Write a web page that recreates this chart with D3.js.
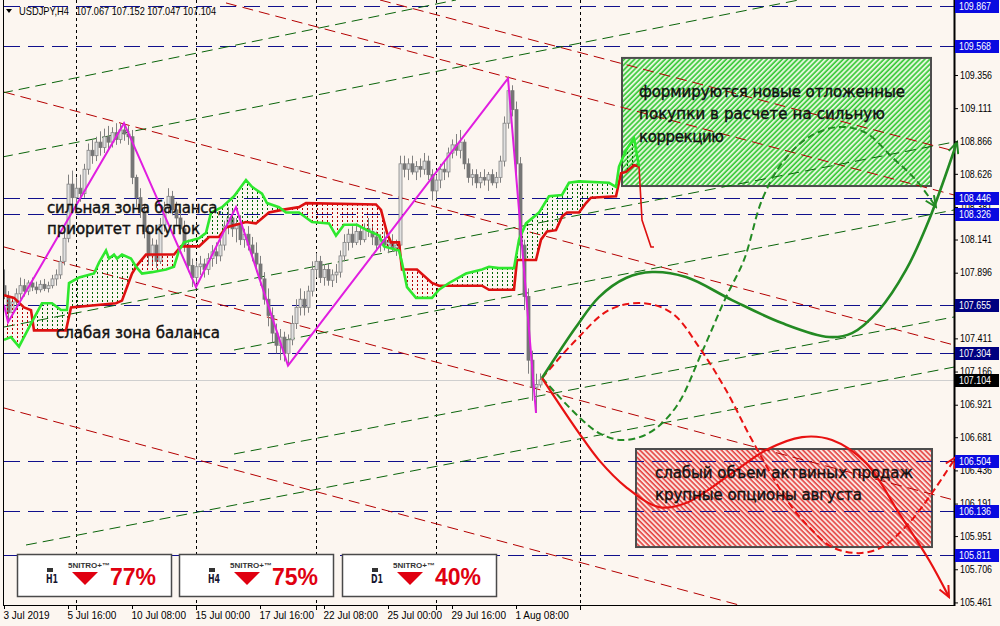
<!DOCTYPE html>
<html><head><meta charset="utf-8">
<script src="https://cdn.jsdelivr.net/npm/d3@7"></script>
<style>body{margin:0;background:#fcf6f0;}svg{display:block;}</style>
</head><body><svg id="c" width="1000" height="626"></svg>
<script>
// ---------- DATA ----------
const symbolTitle = "USDJPY,H4";
const headerOHLC = "107.067 107.152 107.047 107.104";
// OHLC per H4 bar (bar index = position in array)
const candles = [
[107.80,107.92,107.70,107.72],[107.72,107.76,107.53,107.60],[107.60,107.72,107.58,107.68],[107.68,107.78,107.62,107.74],
[107.74,107.86,107.70,107.80],[107.80,107.85,107.72,107.76],[107.76,107.84,107.73,107.82],[107.82,107.86,107.76,107.79],
[107.79,107.83,107.74,107.77],[107.77,107.84,107.75,107.81],[107.81,107.85,107.76,107.78],[107.78,107.83,107.75,107.80],
[107.80,107.88,107.78,107.85],[107.85,107.92,107.80,107.88],[107.88,108.02,107.85,107.98],[107.98,108.20,107.95,108.15],
[108.15,108.62,108.12,108.55],[108.55,108.65,108.40,108.45],[108.45,108.60,108.38,108.52],[108.52,108.62,108.42,108.48],
[108.48,108.70,108.45,108.66],[108.66,108.85,108.62,108.80],[108.80,108.88,108.70,108.76],[108.76,108.90,108.72,108.86],
[108.86,108.94,108.76,108.82],[108.82,108.96,108.78,108.90],[108.90,108.98,108.80,108.86],[108.86,108.97,108.82,108.93],
[108.93,109.00,108.84,108.88],[108.88,109.00,108.85,108.95],[108.95,109.00,108.87,108.92],[108.92,108.98,108.84,108.90],
[108.90,108.95,108.55,108.60],[108.60,108.62,108.38,108.45],[108.45,108.52,108.30,108.35],[108.35,108.40,108.15,108.20],
[108.20,108.25,107.95,108.02],[108.02,108.15,107.95,108.10],[108.10,108.14,107.93,107.98],[107.98,108.30,107.96,108.25],
[108.25,108.42,108.20,108.38],[108.38,108.52,108.33,108.46],[108.46,108.50,108.32,108.36],[108.36,108.42,108.24,108.30],
[108.30,108.36,108.18,108.22],[108.22,108.28,108.05,108.10],[108.10,108.14,107.90,107.95],[107.95,108.00,107.79,107.86],
[107.86,107.98,107.82,107.94],[107.94,108.02,107.88,107.96],[107.96,108.00,107.86,107.92],[107.92,108.04,107.88,108.00],
[108.00,108.10,107.94,108.05],[108.05,108.12,107.96,108.02],[108.02,108.14,107.98,108.10],[108.10,108.28,108.06,108.24],
[108.24,108.38,108.18,108.30],[108.30,108.36,108.16,108.22],[108.22,108.30,108.12,108.26],[108.26,108.32,108.10,108.14],
[108.14,108.22,108.08,108.18],[108.18,108.24,108.06,108.10],[108.10,108.16,107.98,108.04],[108.04,108.12,107.90,107.96],
[107.96,108.02,107.80,107.85],[107.85,107.90,107.66,107.70],[107.70,107.78,107.50,107.58],[107.58,107.64,107.38,107.45],
[107.45,107.52,107.30,107.36],[107.36,107.48,107.25,107.42],[107.42,107.46,107.24,107.30],[107.30,107.44,107.21,107.40],
[107.40,107.58,107.36,107.52],[107.52,107.70,107.48,107.64],[107.64,107.78,107.58,107.70],[107.70,107.76,107.58,107.64],
[107.64,107.80,107.60,107.76],[107.76,107.98,107.72,107.92],[107.92,108.04,107.86,107.98],[107.98,108.02,107.82,107.86],
[107.86,107.96,107.80,107.92],[107.92,107.96,107.80,107.84],[107.84,107.92,107.79,107.88],[107.88,107.96,107.82,107.90],
[107.90,108.06,107.86,108.02],[108.02,108.18,107.98,108.12],[108.12,108.22,108.06,108.18],[108.18,108.24,108.08,108.12],
[108.12,108.26,108.10,108.20],[108.20,108.24,108.10,108.14],[108.14,108.26,108.12,108.22],[108.22,108.30,108.16,108.20],
[108.20,108.24,108.10,108.16],[108.16,108.20,108.06,108.10],[108.10,108.18,108.05,108.14],[108.14,108.20,108.06,108.10],
[108.10,108.16,108.04,108.12],[108.12,108.18,108.05,108.08],[108.08,108.14,108.02,108.10],[108.10,108.76,108.06,108.70],
[108.70,108.76,108.60,108.66],[108.66,108.74,108.58,108.70],[108.70,108.76,108.62,108.64],[108.64,108.72,108.58,108.68],
[108.68,108.74,108.60,108.66],[108.66,108.78,108.62,108.72],[108.72,108.76,108.58,108.62],[108.62,108.66,108.43,108.50],
[108.50,108.62,108.44,108.58],[108.58,108.70,108.52,108.66],[108.66,108.72,108.58,108.64],[108.64,108.82,108.60,108.78],
[108.78,108.88,108.74,108.84],[108.84,108.92,108.76,108.80],[108.80,108.95,108.74,108.86],[108.86,108.88,108.66,108.70],
[108.70,108.74,108.56,108.60],[108.60,108.66,108.54,108.62],[108.62,108.66,108.52,108.56],[108.56,108.64,108.52,108.60],
[108.60,108.66,108.54,108.58],[108.58,108.64,108.50,108.62],[108.62,108.66,108.54,108.56],[108.56,108.64,108.52,108.60],
[108.60,108.76,108.56,108.72],[108.72,109.05,108.68,109.00],[109.00,109.33,108.96,109.24],[109.24,109.28,109.05,109.10],
[109.10,109.16,108.62,108.70],[108.70,108.75,108.00,108.10],[108.10,108.14,107.62,107.72],[107.72,107.78,107.15,107.25],
[107.25,107.32,106.95,107.05],[107.05,107.15,106.86,107.07],[107.067,107.152,107.047,107.104]
];
const priceTicks = [109.356,109.111,108.866,108.626,108.381,108.141,107.896,107.411,107.166,106.921,106.681,106.436,106.191,105.951,105.706,105.461];
const timeTickBars = [0,16,32,48,64,80,96,112,128];
const timeTickLabels = ["3 Jul 2019","5 Jul 16:00","10 Jul 08:00","15 Jul 00:00","17 Jul 16:00","22 Jul 08:00","25 Jul 00:00","29 Jul 16:00","1 Aug 08:00"];
const separatorBars = [18,48,78,108,144];
const levelsBlue = [109.867,109.568,108.446,108.326,106.504,106.136,105.811];
const levelsNavy = [107.655,107.304];
const lastPrice = 107.104;
// Ichimoku Senkou spans [bar, price]
const spanA = [[0,107.40],[1.75,107.42],[3.75,107.35],[6.75,107.52],[9.5,107.67],[12,107.67],[14.25,107.62],[15.75,107.62],[16.25,107.82],[18.75,107.86],[22.5,107.89],[23.75,107.97],[25.5,108.06],[26.25,108.00],[27.5,108.03],[28.25,108.00],[29.5,108.03],[31.75,108.00],[33,107.94],[34.5,107.89],[37,107.90],[40.5,107.92],[42.5,107.94],[43.75,108.06],[45,108.12],[48.75,108.15],[50.5,108.19],[51.75,108.34],[54.5,108.38],[57.5,108.46],[60.5,108.58],[62,108.53],[64.5,108.48],[65.75,108.41],[68.75,108.38],[70.5,108.34],[73.75,108.34],[77,108.27],[81.25,108.26],[83,108.17],[85,108.25],[88.25,108.25],[90.75,108.21],[93.75,108.17],[95,108.09],[98.75,108.06],[99.5,107.97],[100.75,107.79],[103,107.71],[107,107.71],[108.75,107.77],[111.25,107.82],[115.5,107.89],[119.5,107.92],[121.25,107.94],[123.75,107.93],[127.5,107.93],[128.75,108.14],[130.5,108.26],[133.75,108.34],[136.25,108.46],[139.5,108.47],[141.25,108.56],[143.75,108.57],[151.25,108.56],[153,108.53],[153.75,108.68],[155.5,108.80],[157.5,108.89],[158.75,108.68]];
const spanB = [[0,107.73],[2.5,107.71],[5,107.64],[6.75,107.62],[7.5,107.47],[15.5,107.47],[16.75,107.64],[28,107.67],[29.5,107.69],[30.75,107.79],[32,107.89],[33.25,107.95],[35.5,108.03],[42.5,108.03],[44.25,108.09],[48.75,108.09],[51.25,108.16],[53.75,108.16],[55.5,108.23],[60.5,108.27],[63,108.26],[66.25,108.34],[69.5,108.36],[73.75,108.38],[75.5,108.41],[93,108.40],[94.25,108.36],[95.75,108.19],[96.75,108.12],[98.75,108.12],[99.5,107.92],[103.25,107.92],[107,107.82],[108.75,107.80],[119.5,107.80],[121.25,107.77],[127.5,107.77],[128.25,107.99],[133,107.99],[134.25,108.14],[135.75,108.20],[138,108.21],[139.5,108.31],[140.75,108.34],[143.75,108.34],[145.5,108.41],[146.75,108.45],[153,108.46],[154.25,108.63],[155.5,108.64],[157.5,108.69],[158.75,108.68]];
const spanTail = [[158.75,108.68],[159.5,108.285],[161.75,108.086],[162.5,108.086]];
const zigzag = [[0,107.66],[1,107.53],[30,109.00],[48,107.79],[58,108.38],[71,107.21],[126,109.33],[133,106.86]];
// trend channel lines [[bar,price],[bar,price]]
const redChannels = [[[94,109.910],[237.5,108.795]],[[55.5,109.888],[237.5,108.470]],[[0,109.230],[237.5,107.362]],[[0,108.086],[237.5,106.217]],[[0,106.897],[183.75,105.442]]];
const greenChannels = [[[-0.5,109.223],[113,109.910]],[[-0.5,108.750],[198.75,109.910]],[[0,107.495],[237.5,108.861]],[[57.5,107.325],[237.5,108.359]],[[57.5,106.557],[237.5,107.569]],[[5.5,105.885],[237.5,107.199]]];
// forecast scenarios [bar, price]
const fcGreenSolid = [[134.5,107.118],[143,107.495],[148.75,107.716],[155.5,107.857],[162,107.901],[170.5,107.864],[182,107.694],[194.5,107.524],[206.25,107.421],[212,107.450],[218.75,107.620],[225.5,107.916],[231.25,108.285],[238.25,108.861]];
const fcGreenDash = [[134.5,107.118],[143.75,106.830],[148.75,106.712],[154.5,106.660],[161.25,106.712],[168,106.904],[174.5,107.310],[180.5,107.716],[185,107.990],[189.5,108.433],[194.5,108.706],[201.25,108.898],[208.75,108.972],[215.5,108.928],[222,108.750],[228,108.580],[233,108.381]];
const fcRedDash = [[134.5,107.118],[143,107.399],[151.25,107.620],[159.5,107.672],[167,107.598],[173.75,107.347],[180.5,107.029],[187,106.660],[196.25,106.195],[201.25,106.018],[207,105.870],[213.75,105.825],[219.5,105.870],[226.25,106.047],[232,106.269],[238,106.535]];
const fcRedSolid = [[134.5,107.118],[143.75,106.712],[148.75,106.512],[155.5,106.313],[163.75,106.165],[170.5,106.195],[182,106.416],[190.5,106.586],[199.5,106.682],[207,106.660],[215.5,106.490],[223.75,106.121],[231.25,105.774],[236.25,105.501]];
// zones [barFrom, barTo, priceTop, priceBottom]
const buyZone = [154.5,231.75,109.482,108.536];
const sellZone = [158,232,106.594,105.870];
const buyText = ["формируются новые отложенные","покупки в расчете на сильную","коррекцию"];
const sellText = ["слабый объем актвиных продаж","крупные опционы августа"];
const leftText = ["сильная зона баланса,","приоритет покупок","слабая зона баланса"];
const badgeFrames = ["H1","H4","D1"];
const badgeValues = [77,75,40];

// ---------- CHART ----------
const svg = d3.select("#c");
const x = d3.scaleLinear().domain([0,237.5]).range([4,954]);
const y = d3.scaleLinear().domain([105.442,109.895]).range([605,2]);
const FONT = "'Liberation Sans', Arial, sans-serif";
const AFONT = "'DejaVu Sans', 'Noto Sans', sans-serif";

svg.append("rect").attr("width",1000).attr("height",626).attr("fill","#fcf6f0");
const defs = svg.append("defs");
defs.append("clipPath").attr("id","plot").append("rect").attr("x",4).attr("y",0).attr("width",950).attr("height",605);

function stripes(id, rot, bg, col, w){
  const p = defs.append("pattern").attr("id",id).attr("patternUnits","userSpaceOnUse")
    .attr("width",3.6).attr("height",4).attr("patternTransform","rotate("+rot+")");
  p.append("rect").attr("width",3.6).attr("height",4).attr("fill",bg);
  p.append("line").attr("x1",1).attr("y1",-1).attr("x2",1).attr("y2",5).attr("stroke",col).attr("stroke-width",w);
}
stripes("pg",45,"#e2f7da","#36c836",1.6);
stripes("pr",-45,"#fbe4df","#e01e1e",1.3);
function dots(id,col){
  const p = defs.append("pattern").attr("id",id).attr("patternUnits","userSpaceOnUse").attr("width",5).attr("height",4);
  p.append("rect").attr("x",2).attr("y",0).attr("width",1).attr("height",2).attr("fill",col);
}
dots("hg","#006400"); dots("hr","#b00000");
function marker(id,col){
  defs.append("marker").attr("id",id).attr("viewBox","0 0 14 12").attr("refX",12).attr("refY",6)
   .attr("markerWidth",14).attr("markerHeight",12).attr("markerUnits","userSpaceOnUse").attr("orient","auto")
   .append("path").attr("d","M1,1 L12,6 L1,11").attr("fill","none").attr("stroke",col).attr("stroke-width",2);
}
marker("ag","#238a23"); marker("ar","#e81212");

const line = d3.line().x(d=>x(d[0])).y(d=>y(d[1]));
const plot = svg.append("g").attr("clip-path","url(#plot)");

// zones (background objects)
function zone(z, fill){
  plot.append("rect").attr("x",x(z[0])).attr("y",y(z[2])).attr("width",x(z[1])-x(z[0])).attr("height",y(z[3])-y(z[2]))
    .attr("fill",fill).attr("stroke","#4d4d4d").attr("stroke-width",2);
}
zone(buyZone,"url(#pg)"); zone(sellZone,"url(#pr)");

// separators
plot.selectAll(".sep").data(separatorBars).join("line").attr("x1",d=>Math.round(x(d))+0.5).attr("x2",d=>Math.round(x(d))+0.5)
  .attr("y1",0).attr("y2",605).attr("stroke","#000").attr("stroke-dasharray","3,3");
svg.selectAll(".sept").data(separatorBars).join("line").attr("x1",d=>Math.round(x(d))+0.5).attr("x2",d=>Math.round(x(d))+0.5)
  .attr("y1",605).attr("y2",610).attr("stroke","#000");

// current price line
plot.append("line").attr("x1",4).attr("x2",954).attr("y1",Math.round(y(lastPrice))+0.5).attr("y2",Math.round(y(lastPrice))+0.5).attr("stroke","#cfcfcf");

// horizontal levels
plot.selectAll(".lvl").data(levelsBlue.concat(levelsNavy)).join("line")
  .attr("x1",4).attr("x2",954).attr("y1",d=>Math.round(y(d))+0.5).attr("y2",d=>Math.round(y(d))+0.5)
  .attr("stroke","#10108c").attr("stroke-width",1).attr("stroke-dasharray","16,8");

// channels
plot.selectAll(".rch").data(redChannels).join("path").attr("d",line).attr("fill","none")
  .attr("stroke","#b40000").attr("stroke-width",1).attr("stroke-dasharray","11,6");
plot.selectAll(".gch").data(greenChannels).join("path").attr("d",line).attr("fill","none")
  .attr("stroke","#0a640a").attr("stroke-width",1).attr("stroke-dasharray","11,6");

// candles
const cg = plot.append("g");
candles.forEach((c,i)=>{
  const [o,h,l,cl] = c, cx = Math.round(x(i))+0.5;
  const bull = cl>=o;
  cg.append("line").attr("x1",cx).attr("x2",cx).attr("y1",y(h)).attr("y2",y(l)).attr("stroke","#808080");
  const top=y(Math.max(o,cl)), bot=y(Math.min(o,cl));
  cg.append("rect").attr("x",cx-1.5).attr("y",top).attr("width",3).attr("height",Math.max(1,bot-top))
    .attr("fill",bull?"#e0e0e0":"#767676").attr("stroke",bull?"#858585":"#767676").attr("stroke-width",0.8);
});

// Ichimoku cloud
const xs = x(spanB[0][0]), xe = x(spanB[spanB.length-1][0]);
const bPix = spanB.map(d=>[x(d[0]),y(d[1])]);
const aboveB = "M"+bPix.map(p=>p.join(",")).join("L")+"L"+xe+",-10L"+xs+",-10Z";
const belowB = "M"+bPix.map(p=>p.join(",")).join("L")+"L"+xe+",700L"+xs+",700Z";
defs.append("clipPath").attr("id","cabove").append("path").attr("d",aboveB);
defs.append("clipPath").attr("id","cbelow").append("path").attr("d",belowB);
const cloudPoly = line(spanA.concat(spanB.slice().reverse()))+"Z";
plot.append("g").attr("clip-path","url(#cabove)").append("path").attr("d",cloudPoly).attr("fill","url(#hg)");
plot.append("g").attr("clip-path","url(#cbelow)").append("path").attr("d",cloudPoly).attr("fill","url(#hr)");
plot.append("path").attr("d",line(spanB)).attr("fill","none").attr("stroke","#dd1010").attr("stroke-width",2.6);
plot.append("path").attr("d",line(spanA)).attr("fill","none").attr("stroke","#2ee82e").attr("stroke-width",2.6);
plot.append("path").attr("d",line(spanTail)).attr("fill","none").attr("stroke","#dd1010").attr("stroke-width",1.6);

// zigzag
plot.append("path").attr("d",line(zigzag)).attr("fill","none").attr("stroke","#e01ee0").attr("stroke-width",2);

// frame
svg.append("line").attr("x1",3.5).attr("x2",3.5).attr("y1",0).attr("y2",606).attr("stroke","#000");
svg.append("line").attr("x1",3).attr("x2",955).attr("y1",605.5).attr("y2",605.5).attr("stroke","#000");
svg.append("line").attr("x1",954.5).attr("x2",954.5).attr("y1",0).attr("y2",606).attr("stroke","#000").attr("stroke-width",2);

// forecasts
const cline = d3.line().x(d=>x(d[0])).y(d=>y(d[1])).curve(d3.curveCatmullRom.alpha(0.5));
svg.append("path").attr("d",cline(fcGreenDash)).attr("fill","none").attr("stroke","#238a23").attr("stroke-width",2).attr("stroke-dasharray","7,4").attr("marker-end","url(#ag)");
svg.append("path").attr("d",cline(fcRedDash)).attr("fill","none").attr("stroke","#e81212").attr("stroke-width",2).attr("stroke-dasharray","7,4").attr("marker-end","url(#ar)");
svg.append("path").attr("d",cline(fcGreenSolid)).attr("fill","none").attr("stroke","#238a23").attr("stroke-width",2.6).attr("marker-end","url(#ag)");
svg.append("path").attr("d",cline(fcRedSolid)).attr("fill","none").attr("stroke","#e81212").attr("stroke-width",2.2).attr("marker-end","url(#ar)");

// annotation texts
function atext(str, px, py, len){
  svg.append("text").attr("x",px).attr("y",py).text(str).attr("font-family",AFONT).attr("font-size",15)
    .attr("fill","#111").attr("stroke","#111").attr("stroke-width",0.4)
    .attr("textLength",len).attr("lengthAdjust","spacing").attr("dominant-baseline","middle");
}
atext(leftText[0],47,208,175); atext(leftText[1],47,229,153); atext(leftText[2],56,333,164);
atext(buyText[0],639,92,266); atext(buyText[1],639,114,246); atext(buyText[2],639,137,85);
atext(sellText[0],655,473,258); atext(sellText[1],655,495,207);

// header
svg.append("path").attr("d","M6,9 L12,9 L9,13 Z").attr("fill","#000");
svg.append("text").attr("x",19).attr("y",14.5).text(symbolTitle).attr("font-family",FONT).attr("font-size",10.5).attr("textLength",50).attr("lengthAdjust","spacingAndGlyphs");
svg.append("text").attr("x",76).attr("y",14.5).text(headerOHLC).attr("font-family",FONT).attr("font-size",10.5).attr("textLength",140).attr("lengthAdjust","spacingAndGlyphs");

// right axis
const ya = svg.append("g").attr("transform","translate(954,0)")
  .call(d3.axisRight(y).tickValues(priceTicks).tickSize(4).tickPadding(2).tickFormat(d3.format(".3f")));
ya.select(".domain").remove();
ya.selectAll("line").attr("stroke","#000");
ya.selectAll("text").attr("font-family",FONT).attr("font-size",10).attr("fill","#000").attr("textLength",32).attr("lengthAdjust","spacingAndGlyphs");

// bottom axis
const xa = svg.append("g").attr("transform","translate(0,605)")
  .call(d3.axisBottom(x).tickValues(timeTickBars).tickSize(4).tickPadding(3).tickFormat((d,i)=>timeTickLabels[i]));
xa.select(".domain").remove();
xa.selectAll("line").attr("stroke","#000");
xa.selectAll("text").attr("text-anchor","start").attr("dx","-1").attr("font-family",FONT).attr("font-size",10).attr("fill","#000");

// level labels
function tag(v, bg){
  const g = svg.append("g");
  g.append("rect").attr("x",955).attr("y",Math.round(y(v))-6).attr("width",44).attr("height",13).attr("fill",bg);
  g.append("text").attr("x",959).attr("y",Math.round(y(v))+4).text(d3.format(".3f")(v)).attr("font-family",FONT)
   .attr("font-size",10).attr("fill","#fff").attr("textLength",32).attr("lengthAdjust","spacingAndGlyphs");
}
levelsBlue.forEach(v=>tag(v,"#0a0ae0"));
levelsNavy.forEach(v=>tag(v,"#000080"));
tag(lastPrice,"#000");

// badges
const badgeX = [17,179,342];
badgeFrames.forEach((f,i)=>{
  const bx = badgeX[i];
  const g = svg.append("g");
  g.append("rect").attr("x",bx+0.5).attr("y",554.5).attr("width",154).attr("height",42).attr("fill","#fff").attr("stroke","#4a4a4a").attr("stroke-width",1.5);
  g.append("rect").attr("x",bx+30).attr("y",568).attr("width",6).attr("height",4).attr("fill","#333");
  g.append("text").attr("x",bx+29).attr("y",583).text(f).attr("font-family",AFONT).attr("font-weight","bold").attr("font-size",12)
    .attr("fill","#151530").attr("textLength",12).attr("lengthAdjust","spacingAndGlyphs");
  g.append("text").attr("x",bx+51).attr("y",568).text("5NITRO+™").attr("font-family",FONT).attr("font-weight","bold").attr("font-size",7)
    .attr("fill","#333").attr("textLength",42).attr("lengthAdjust","spacingAndGlyphs");
  g.append("path").attr("d",`M${bx+55},572 L${bx+81},572 L${bx+68},585 Z`).attr("fill","#e00010");
  g.append("text").attr("x",bx+93).attr("y",585).text(badgeValues[i]+"%").attr("font-family",FONT).attr("font-weight","bold")
    .attr("font-size",23).attr("fill","#e00010");
});
</script></body></html>
